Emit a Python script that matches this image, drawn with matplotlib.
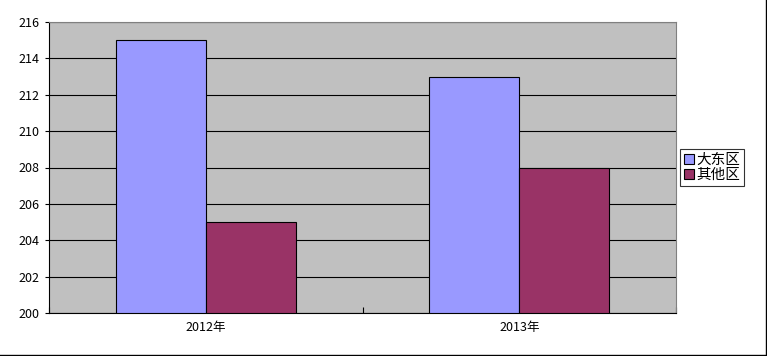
import numpy as np
import matplotlib
matplotlib.use("Agg")
import matplotlib.pyplot as plt
from matplotlib.lines import Line2D

plt.rcParams['font.family'] = ['Noto Sans CJK SC', 'DejaVu Sans']

categories = ['2012年', '2013年']
series_names = ['大东区', '其他区']
dadong = [215, 213]
others = [205, 208]
y_ticks = [200, 202, 204, 206, 208, 210, 212, 214, 216]

colors = ['#9999FF', '#993366']

fig = plt.figure(figsize=(7.67, 3.56), dpi=100)
ax = fig.add_axes([49 / 767, 43 / 356, 627 / 767, 291 / 356])
ax.set_facecolor('#C0C0C0')

x = np.arange(len(categories))
bar_w = 0.287
ax.bar(x - bar_w / 2, np.array(dadong) - 200, bottom=200, width=bar_w,
       color=colors[0], edgecolor='black', linewidth=0.8, label=series_names[0], zorder=3)
ax.bar(x + bar_w / 2, np.array(others) - 200, bottom=200, width=bar_w,
       color=colors[1], edgecolor='black', linewidth=0.8, label=series_names[1], zorder=3)

ax.set_xlim(-0.5, 1.5)
ax.set_ylim(200, 216)
ax.set_yticks(y_ticks)
ax.set_yticklabels([str(v) for v in y_ticks], fontsize=9)
ax.set_xticks(x)
ax.set_xticklabels(categories, fontsize=9)
ax.tick_params(axis='x', length=0, pad=6)
ax.tick_params(axis='y', length=3, width=0.8, pad=4)

# category divider ticks along the bottom
ax.set_xticks([-0.5, 0.5, 1.5], minor=True)
ax.tick_params(axis='x', which='minor', direction='in', length=4, width=0.8)

ax.yaxis.grid(True, color='black', linewidth=0.8, zorder=1)
ax.set_axisbelow(True)
for s in ['top', 'right']:
    ax.spines[s].set_color('#808080')
    ax.spines[s].set_linewidth(0.8)
for s in ['left', 'bottom']:
    ax.spines[s].set_color('black')
    ax.spines[s].set_linewidth(0.8)

leg = ax.legend(loc='center left', bbox_to_anchor=(1.0064, 0.5), borderaxespad=0,
                fontsize=10.5, frameon=True, fancybox=False, edgecolor='black',
                borderpad=0.25, handlelength=0.7, handleheight=0.7,
                handletextpad=0.15, labelspacing=0.1)
leg.get_frame().set_linewidth(0.8)

# chart frame: only right and bottom edges show in the reference
fig.add_artist(Line2D([0.0, 0.9987], [0.004, 0.004], transform=fig.transFigure,
                      color='black', linewidth=1.0))
fig.add_artist(Line2D([0.9987, 0.9987], [0.004, 1.0], transform=fig.transFigure,
                      color='black', linewidth=1.0))

fig.savefig('out.png', dpi=100, facecolor='white')
